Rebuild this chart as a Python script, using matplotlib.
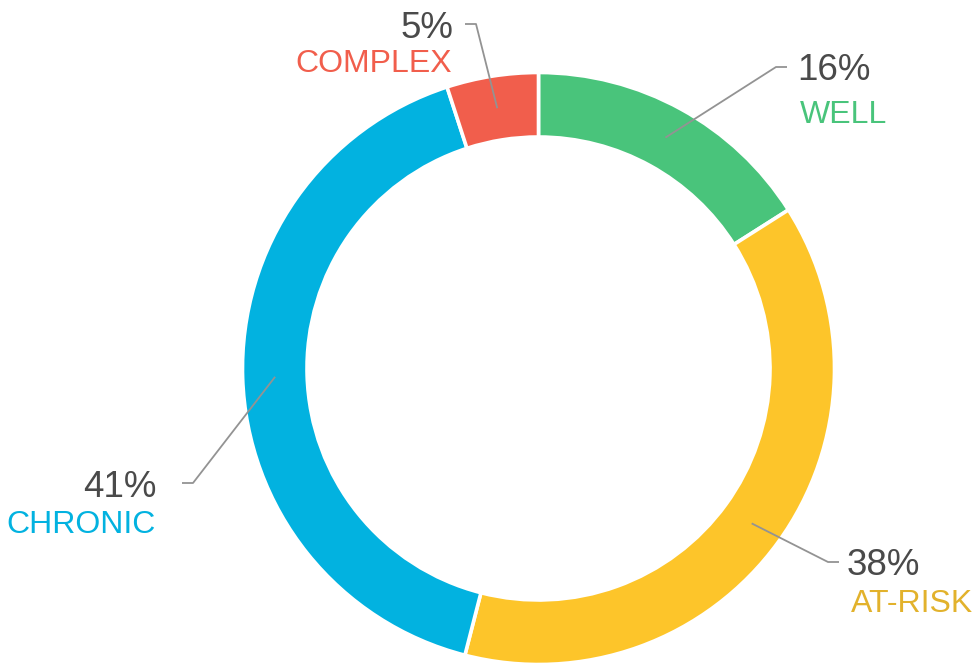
import matplotlib
matplotlib.use("Agg")
import numpy as np
import matplotlib.pyplot as plt

plt.rcParams["font.family"] = ["Liberation Sans", "DejaVu Sans"]

# data
categories = ["WELL", "AT-RISK", "CHRONIC", "COMPLEX"]
shares = [16, 38, 41, 5]
seg_colors = ["#49C47B", "#FDC52A", "#02B2E0", "#F15E4C"]
text_colors = ["#49C47B", "#E2B22C", "#02B2E0", "#F15E4C"]

W, H = 976, 663
CX, CY = 538.5, H - 368.5
R_OUT, RING = 296.0, 64.5

# layout of the callouts (pixel coords, y from top)
elbows = [(776, 67), (828, 562), (193, 483), (476, 24)]
sides = [1, 1, -1, -1]
pct_base = [80, 575, 497, 38]
cat_base = [123, 612, 533, 72]
pct_x = [797, 847, 156, 453]
cat_x = [800, 851, 156, 452]


def main():
    fig = plt.figure(figsize=(W / 100, H / 100), dpi=100)
    ax = fig.add_axes([0, 0, 1, 1])

    wedges, _ = ax.pie(
        shares, colors=seg_colors, startangle=90, counterclock=False,
        radius=R_OUT, center=(CX, CY),
        wedgeprops=dict(width=RING, edgecolor="white", linewidth=2.6),
    )

    ax.set_xlim(0, W)
    ax.set_ylim(0, H)
    ax.set_aspect("equal")
    ax.axis("off")

    r_mid = 263.5
    for w, cat, tc, (ex, ey), s, pb, cb, px, cx in zip(
            wedges, categories, text_colors, elbows, sides,
            pct_base, cat_base, pct_x, cat_x):
        mid = np.deg2rad((w.theta1 + w.theta2) / 2)
        sx = CX + r_mid * np.cos(mid)
        sy = CY + r_mid * np.sin(mid)
        ey = H - ey
        ax.plot([sx, ex, ex + 11 * s], [sy, ey, ey],
                color="#939393", linewidth=1.3, solid_capstyle="butt")
        ha = "left" if s > 0 else "right"
        pct = shares[categories.index(cat)]
        ax.text(px, H - pb, f"{pct}%", ha=ha, va="baseline",
                fontsize=26.5, color="#4a4a4a")
        ax.text(cx, H - cb, cat, ha=ha, va="baseline",
                fontsize=23, color=tc)

    fig.savefig("out.png", dpi=100)
    plt.close(fig)


if __name__ == "__main__":
    main()
